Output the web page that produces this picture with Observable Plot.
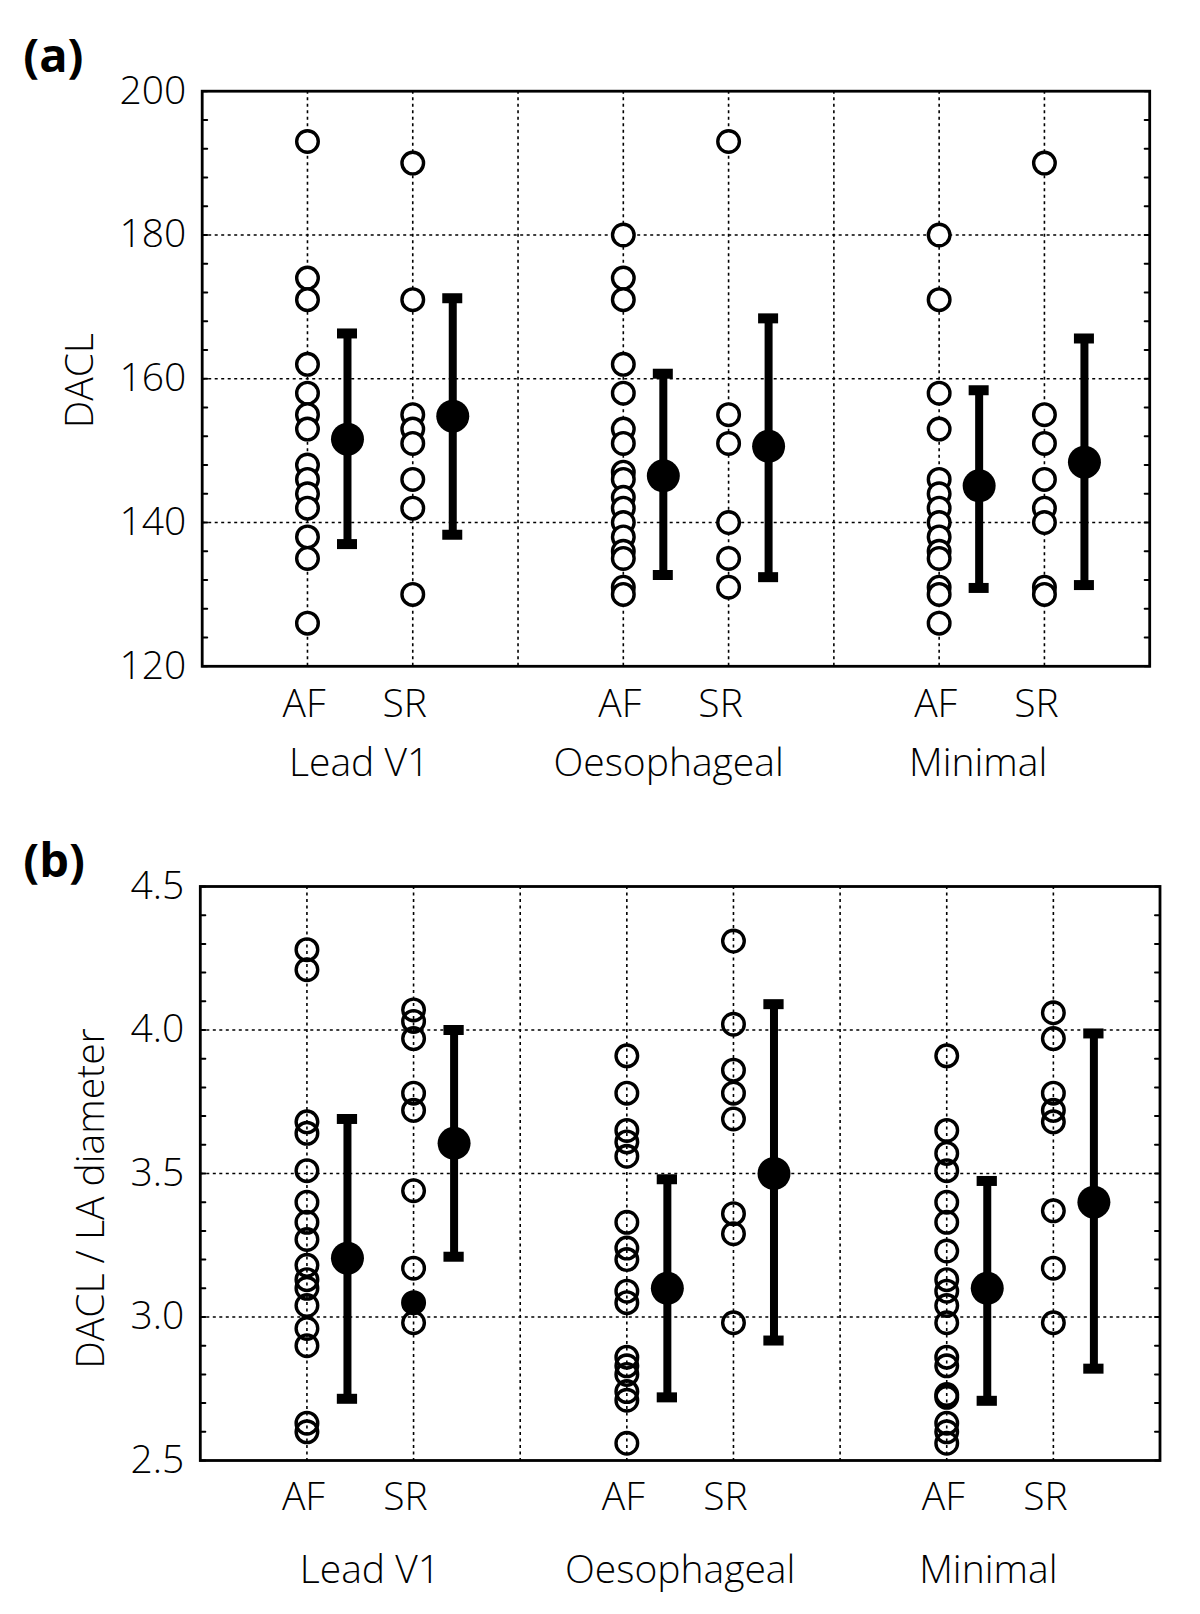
<!DOCTYPE html>
<html>
<head>
<meta charset="utf-8">
<script src="https://cdn.jsdelivr.net/npm/d3@7"></script>
<script src="https://cdn.jsdelivr.net/npm/@observablehq/plot@0.6"></script>
<style>
  html, body { margin: 0; padding: 0; background: #fff; }
  #root { position: relative; width: 1200px; height: 1614px; overflow: hidden; }
  #panelA, #panelB { position: absolute; left: 0; }
  #panelA { top: 0; }
  #panelB { top: 800px; }
</style>
</head>
<body>
<div id="root"><div id="panelA"></div><div id="panelB"></div></div>
<script>
// ---------- categories & labels ----------
const groups = ["Lead V1", "Oesophageal", "Minimal"];
const rhythms = ["AF", "SR"];
const panelLabels = ["(a)", "(b)"];
const yTitles = ["DACL", "DACL / LA diameter"];

// ---------- panel (a): DACL ----------
const daclV1AF  = [193, 174, 171, 162, 158, 155, 153, 148, 146, 144, 142, 138, 135, 126];
const daclV1SR  = [190, 171, 155, 153, 151, 146, 142, 130];
const daclOesAF = [180, 174, 171, 162, 158, 153, 151, 147, 146, 143.5, 142, 140, 138, 136, 135, 131, 130];
const daclOesSR = [193, 155, 151, 140, 135, 131];
const daclMinAF = [180, 171, 158, 153, 146, 144, 142, 140, 138, 136, 135, 131, 130, 126];
const daclMinSR = [190, 155, 151, 146, 142, 140, 131, 130];
// order: V1 AF, V1 SR, Oes AF, Oes SR, Min AF, Min SR
const daclMean = [151.6, 154.8, 146.5, 150.6, 145.1, 148.4];
const daclLow  = [137.0, 138.3, 132.7, 132.4, 130.9, 131.3];
const daclHigh = [166.3, 171.2, 160.7, 168.4, 158.4, 165.6];

// ---------- panel (b): DACL / LA diameter ----------
const ratioV1AF  = [4.28, 4.21, 3.68, 3.64, 3.51, 3.40, 3.33, 3.27, 3.18, 3.13, 3.10, 3.04, 2.96, 2.90, 2.63, 2.60];
const ratioV1SR  = [4.07, 4.03, 3.97, 3.78, 3.72, 3.44, 3.17, 2.98];
const ratioV1SRFilled = [3.05];
const ratioOesAF = [3.91, 3.78, 3.65, 3.61, 3.56, 3.33, 3.24, 3.20, 3.09, 3.05, 2.86, 2.83, 2.80, 2.74, 2.71, 2.56];
const ratioOesSR = [4.31, 4.02, 3.86, 3.78, 3.69, 3.36, 3.29, 2.98];
const ratioMinAF = [3.91, 3.65, 3.57, 3.51, 3.40, 3.33, 3.23, 3.13, 3.09, 3.04, 2.98, 2.86, 2.83, 2.73, 2.72, 2.63, 2.60, 2.56];
const ratioMinSR = [4.06, 3.97, 3.78, 3.72, 3.68, 3.37, 3.17, 2.98];
const ratioMean = [3.205, 3.605, 3.10, 3.50, 3.10, 3.40];
const ratioLow  = [2.715, 3.21, 2.72, 2.918, 2.708, 2.82];
const ratioHigh = [3.69, 4.00, 3.48, 4.09, 3.474, 3.988];

// ---------- ticks ----------
const yTicksA = [120, 140, 160, 180, 200];
const yGridA  = [140, 160, 180];
const yMinorA = [120, 124, 128, 132, 136, 140, 144, 148, 152, 156, 160, 164, 168, 172, 176, 180, 184, 188, 192, 196, 200];
const yTicksB = [2.5, 3.0, 3.5, 4.0, 4.5];
const yGridB  = [3.0, 3.5, 4.0];
const yMinorB = [2.5, 2.6, 2.7, 2.8, 2.9, 3.0, 3.1, 3.2, 3.3, 3.4, 3.5, 3.6, 3.7, 3.8, 3.9, 4.0, 4.1, 4.2, 4.3, 4.4, 4.5];

// ---------- layout helpers ----------
const slot = (g, r) => 3 * g + r + 1;          // slot of a category on a 0..9 axis
const catSlots = [0, 1, 2].flatMap(g => [0, 1].map(r => slot(g, r)));
const afSlots = catSlots.filter((d, i) => i % 2 === 0);
const srSlots = catSlots.filter((d, i) => i % 2 === 1);
const xGrid = [1, 2, 3, 4, 5, 6, 7, 8];
const meanOffset = 0.38;
const capHalf = 0.095;

function pointRows(lists) {
  return lists.flatMap((vals, k) => vals.map(v => ({x: catSlots[k], v})));
}
function statRows(mean, lo, hi) {
  return mean.map((m, k) => ({x: catSlots[k] + meanOffset, mean: m, lo: lo[k], hi: hi[k]}));
}

const FONT = '"Open Sans", "DejaVu Sans", sans-serif';
const tickLine = {draw(context, l) { context.moveTo(0, 0); context.lineTo(0, -l); }};

function makePanel(cfg) {
  const dash = {stroke: "black", strokeOpacity: 1, strokeWidth: 1.6, strokeDasharray: "3,3.5"};
  const txt = {fontSize: 39, fontWeight: 300, label: null, tickSize: 0};
  return Plot.plot({
    width: 1200,
    height: cfg.height,
    marginTop: cfg.mt, marginBottom: cfg.mb, marginLeft: cfg.ml, marginRight: cfg.mr,
    style: {fontFamily: FONT, fontSize: "39px", color: "black", background: "white", overflow: "visible"},
    x: {domain: [0, 9], label: null},
    y: {domain: cfg.yDomain, label: null},
    marks: [
      Plot.gridX(xGrid, dash),
      Plot.gridY(cfg.yGrid, dash),
      Plot.vector(cfg.yMinor, {y: d => d, frameAnchor: "left", length: 5, rotate: 90, anchor: "start", shape: tickLine, stroke: "black", strokeWidth: 2}),
      Plot.vector(cfg.yMinor, {y: d => d, frameAnchor: "right", length: 5, rotate: -90, anchor: "start", shape: tickLine, stroke: "black", strokeWidth: 2}),
      Plot.axisY(cfg.yTicks, {...txt, anchor: "left", tickPadding: 16, tickFormat: cfg.fmt}),
      Plot.axisX(afSlots, {...txt, anchor: "bottom", tickPadding: cfg.catPad, dx: -3.5, tickFormat: () => rhythms[0]}),
      Plot.axisX(srSlots, {...txt, anchor: "bottom", tickPadding: cfg.catPad, dx: -8, tickFormat: () => rhythms[1]}),
      Plot.axisX(cfg.groupPos, {...txt, anchor: "bottom", tickPadding: cfg.groupPad, tickFormat: d => groups[cfg.groupPos.indexOf(d)]}),
      Plot.ruleX(cfg.stats, {x: "x", y1: "lo", y2: "hi", stroke: "black", strokeWidth: 8}),
      Plot.ruleY(cfg.stats, {y: "lo", x1: d => d.x - capHalf, x2: d => d.x + capHalf, stroke: "black", strokeWidth: 10}),
      Plot.ruleY(cfg.stats, {y: "hi", x1: d => d.x - capHalf, x2: d => d.x + capHalf, stroke: "black", strokeWidth: 10}),
      Plot.dot(cfg.points, {x: "x", y: "v", r: 10.8, stroke: "black", strokeWidth: 3.4, fill: cfg.pointFill}),
      Plot.dot(cfg.filled, {x: "x", y: "v", r: 10.8, stroke: "black", strokeWidth: 3.4, fill: "black"}),
      Plot.dot(cfg.stats, {x: "x", y: "mean", r: 16.5, fill: "black"}),
      Plot.frame({stroke: "black", strokeWidth: 2.8}),
      Plot.text([cfg.label], {frameAnchor: "top-left", dx: cfg.labelDx, dy: cfg.labelDy, textAnchor: "start", lineAnchor: "middle", fontWeight: "bold", fontSize: 47}),
      Plot.text([cfg.title], {frameAnchor: "left", rotate: -90, dx: cfg.titleDx, dy: cfg.titleDy, textAnchor: "middle", lineAnchor: "middle", fontSize: 39, fontWeight: 300})
    ]
  });
}

const panelA = makePanel({
  height: 800, mt: 90.7, mb: 134.2, ml: 201.7, mr: 50.8,
  yDomain: [120, 200], yTicks: yTicksA, yGrid: yGridA, yMinor: yMinorA,
  fmt: d3.format("d"),
  catPad: 23, groupPad: 82,
  groupPos: [1.49, 4.43, 7.37],
  points: pointRows([daclV1AF, daclV1SR, daclOesAF, daclOesSR, daclMinAF, daclMinSR]),
  filled: [],
  pointFill: "white",
  stats: statRows(daclMean, daclLow, daclHigh),
  label: panelLabels[0], labelDx: -179, labelDy: -34,
  title: yTitles[0], titleDx: -121.7, titleDy: 2
});

const panelB = makePanel({
  height: 814, mt: 86, mb: 154, ml: 199.8, mr: 40.5,
  yDomain: [2.5, 4.5], yTicks: yTicksB, yGrid: yGridB, yMinor: yMinorB,
  fmt: d3.format(".1f"),
  catPad: 21.5, groupPad: 94.5,
  groupPos: [1.59, 4.50, 7.39],
  points: pointRows([ratioV1AF, ratioV1SR, ratioOesAF, ratioOesSR, ratioMinAF, ratioMinSR]),
  filled: ratioV1SRFilled.map(v => ({x: catSlots[1], v})),
  pointFill: "none",
  stats: statRows(ratioMean, ratioLow, ratioHigh),
  label: panelLabels[1], labelDx: -177, labelDy: -25,
  title: yTitles[1], titleDx: -109.2, titleDy: 25
});

document.getElementById("panelA").appendChild(panelA);
document.getElementById("panelB").appendChild(panelB);
</script>
</body>
</html>
